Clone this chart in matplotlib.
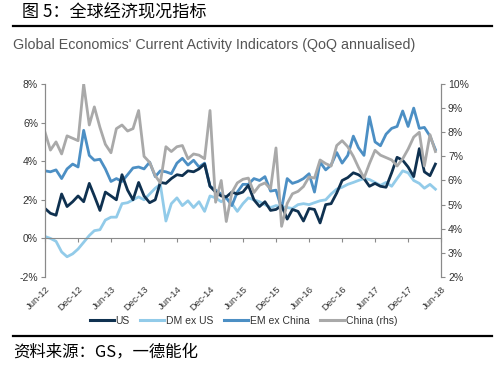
import matplotlib
matplotlib.use('Agg')
import matplotlib.pyplot as plt
import matplotlib.dates as mdates
import pandas as pd
from matplotlib.ticker import FuncFormatter, MultipleLocator
from matplotlib.lines import Line2D

# ---------------- data (monthly, Jun-12 .. May-18) ----------------
months = pd.date_range('2012-06-01', periods=72, freq='MS')

us = [1.55, 1.3, 1.2, 2.3, 1.65, 1.9, 2.2, 1.9, 2.85, 2.2, 1.45, 2.4,
      2.2, 2.0, 3.3, 2.5, 2.0, 2.9, 2.2, 1.85, 2.0, 2.9, 2.85, 3.1,
      3.3, 3.25, 3.5, 3.45, 3.6, 3.85, 2.7, 2.4, 2.2, 2.15, 2.4, 2.3,
      2.4, 2.75, 2.0, 1.65, 1.9, 1.45, 1.5, 1.7, 1.0, 1.5, 1.4, 0.9,
      1.55, 1.5, 0.8, 1.75, 1.8, 2.35, 3.0, 3.15, 3.4, 3.3, 3.1, 2.7,
      2.85, 2.7, 2.65, 3.4, 4.2, 4.05, 3.7, 3.2, 4.65, 3.45, 3.25, 3.85]

dm_ex_us = [0.1, 0.0, -0.15, -0.7, -0.95, -0.8, -0.55, -0.2, 0.15, 0.4, 0.45, 0.95,
            1.1, 1.1, 1.8, 1.85, 2.0, 2.15, 2.0, 2.3, 2.6, 2.8, 0.9, 1.8,
            2.1, 1.7, 1.95, 1.6, 1.9, 1.4, 2.2, 2.1, 1.9, 2.1, 1.8, 1.4,
            1.8, 2.1, 2.0, 1.9, 1.75, 1.6, 1.7, 1.65, 1.6, 1.55, 1.75, 1.8,
            1.75, 1.85, 1.95, 2.0, 2.3, 2.55, 2.65, 2.8, 2.9, 3.0, 3.1, 3.05,
            2.9, 2.75, 2.9, 2.7, 3.1, 3.5, 3.4, 3.0, 2.85, 2.6, 2.8, 2.55]

em_ex_china = [3.5, 3.45, 3.55, 3.1, 3.6, 3.85, 3.7, 5.6, 4.3, 4.05, 4.1, 3.6,
               2.95, 3.1, 2.95, 3.3, 3.65, 3.7, 3.6, 3.95, 3.2, 3.5, 3.45, 3.35,
               3.9, 4.15, 3.8, 4.05, 3.7, 3.9, 2.7, 2.5, 2.3, 2.1, 1.7, 2.4,
               2.8, 2.8, 3.1, 3.0, 3.2, 2.45, 2.5, 1.55, 3.1, 2.85, 2.95, 3.1,
               3.35, 2.4, 3.95, 3.55, 3.8, 4.45, 3.9, 4.3, 5.3, 4.7, 4.3, 6.3,
               5.0, 4.8, 5.4, 5.7, 5.8, 6.6, 5.8, 6.75, 5.7, 5.75, 5.3, 4.6]

china = [8.0, 7.26, 7.6, 7.1, 7.85, 7.75, 7.65, 10.0, 8.3, 9.05, 8.2, 7.5,
         7.15, 8.15, 8.3, 8.05, 8.15, 8.9, 7.0, 6.75, 6.2, 5.9, 7.4, 7.2,
         7.4, 7.45, 6.9, 7.1, 7.05, 6.9, 8.9, 5.1, 6.0, 4.3, 5.5, 5.9,
         6.05, 6.1, 5.5, 5.8, 5.9, 5.65, 7.35, 4.1, 5.05, 5.45, 5.55, 5.75,
         6.15, 6.1, 6.85, 6.7, 6.6, 7.45, 7.65, 7.4, 7.0, 6.55, 6.1, 6.7,
         7.25, 7.05, 6.95, 6.85, 6.6, 6.9, 7.3, 7.8, 8.0, 6.6, 7.9, 7.2]

series_names = ['US', 'DM ex US', 'EM ex China', 'China (rhs)']
colors = ['#0f3150', '#92cbe9', '#4c8fc4', '#a9a9a9']

title_cn = '图 5：全球经济现况指标'
subtitle = "Global Economics' Current Activity Indicators (QoQ annualised)"
source_cn = '资料来源：GS，一德能化'

# ---------------- figure ----------------
plt.rcParams['font.family'] = ['Liberation Sans', 'DejaVu Sans']
fig = plt.figure(figsize=(5, 3.69), dpi=100)
ax = fig.add_axes([0.09, 0.2493, 0.792, 0.5231])
ax2 = ax.twinx()

lw = 2.0
ax.plot(months, us, color=colors[0], lw=lw, zorder=3)
ax.plot(months, dm_ex_us, color=colors[1], lw=lw, zorder=2)
ax.plot(months, em_ex_china, color=colors[2], lw=lw, zorder=2.5)
ax2.plot(months, china, color=colors[3], lw=lw)

ax.set_xlim(pd.Timestamp('2012-06-01'), pd.Timestamp('2018-06-01'))
ax.set_ylim(-2, 8)
ax2.set_ylim(2, 10)
ax.yaxis.set_major_locator(MultipleLocator(2))
ax2.yaxis.set_major_locator(MultipleLocator(1))
pct = FuncFormatter(lambda v, p: f'{v:.0f}%')
ax.yaxis.set_major_formatter(pct)
ax2.yaxis.set_major_formatter(pct)

ax.xaxis.set_major_locator(mdates.MonthLocator(bymonth=[6, 12], bymonthday=1))
ax.xaxis.set_major_formatter(mdates.DateFormatter('%b-%y'))

spine_c = '#8a8a8a'
for a in (ax, ax2):
    a.spines['top'].set_visible(False)
    a.spines['left'].set_color(spine_c)
    a.spines['right'].set_color(spine_c)
    a.spines['bottom'].set_visible(False)
ax.spines['bottom'].set_visible(True)
ax.spines['bottom'].set_position(('data', 0))
ax.spines['bottom'].set_color(spine_c)

txt_c = '#333333'
ax.tick_params(axis='y', direction='out', length=3, color=spine_c, labelsize=7.5,
               labelcolor=txt_c, pad=2)
ax2.tick_params(axis='y', direction='out', length=3, color=spine_c, labelsize=7.5,
                labelcolor=txt_c, pad=2)
ax.tick_params(axis='x', direction='out', length=3, color=spine_c, labelsize=6.8,
               labelcolor=txt_c, pad=30)
for lab in ax.get_xticklabels():
    lab.set_rotation(45)
    lab.set_ha('right')
    lab.set_rotation_mode('anchor')

# legend
handles = [Line2D([], [], color=c, lw=2.2) for c in colors]
fig.legend(handles, series_names, loc='center', bbox_to_anchor=(0.487, 0.130),
           ncol=4, frameon=False, fontsize=7.5, handlelength=2.3,
           handletextpad=0.15, columnspacing=1.05, labelcolor=txt_c)

# titles and rules
fig.text(0.044, 0.967, title_cn, fontsize=12.3, va='center', ha='left',
         family=['Noto Sans CJK SC', 'DejaVu Sans'], color='black')
fig.add_artist(Line2D([0.026, 0.984], [0.929, 0.929], color='black', lw=1.6))
fig.text(0.026, 0.878, subtitle, fontsize=10.3, va='center', ha='left',
         family=['Liberation Sans Narrow', 'Liberation Sans'], color='#555555')
fig.add_artist(Line2D([0.026, 0.984], [0.089, 0.089], color='black', lw=1.6))
fig.text(0.026, 0.046, source_cn, fontsize=11.8, va='center', ha='left',
         family=['Noto Sans CJK SC', 'DejaVu Sans'], color='black')

fig.savefig('out.png', dpi=100)
